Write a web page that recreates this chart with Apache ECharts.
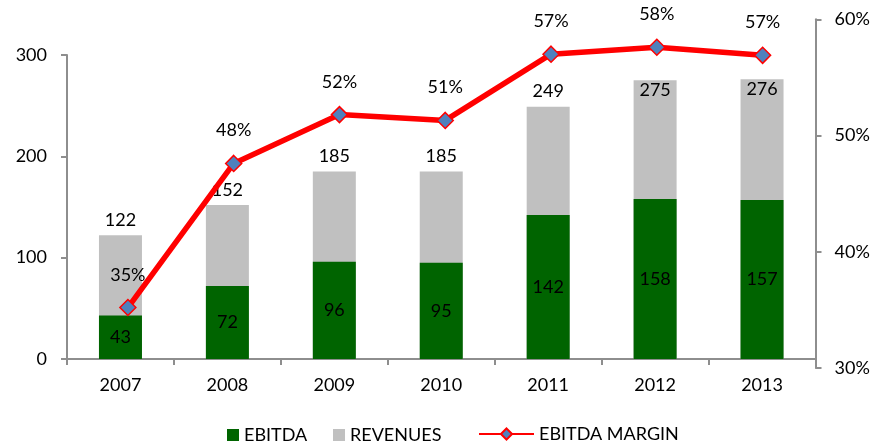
<!DOCTYPE html>
<html>
<head>
<meta charset="utf-8">
<script src="https://cdn.jsdelivr.net/npm/echarts@6/dist/echarts.min.js"></script>
<style>
html,body{margin:0;padding:0;background:#fff;}
#chart{width:875px;height:443px;}
</style>
</head>
<body>
<div id="chart"></div>
<script>
const categories = ['2007', '2008', '2009', '2010', '2011', '2012', '2013'];
const ebitda = [43, 72, 96, 95, 142, 158, 157];
const revenues = [122, 152, 185, 185, 249, 275, 276];
const margin = [35.2, 47.6, 51.8, 51.3, 57.0, 57.6, 56.9];
const leftAxisRange = [0, 300, 100];
const rightAxisRange = [30, 60, 10];

const FONT = 'Lato';
const FS = 18;
const axisColor = '#8E8E8E';
const textStyle = { color: '#000', fontFamily: FONT, fontSize: FS };

const chart = echarts.init(document.getElementById('chart'), null, { renderer: 'canvas' });

const option = {
  animation: false,
  textStyle: { fontFamily: FONT },
  grid: [
    { left: 67, right: 59.5, top: 55, bottom: 84, containLabel: false },
    { left: 75, right: 59.5, top: 19.3, bottom: 75, containLabel: false }
  ],
  legend: [
    {
      data: ['EBITDA'], left: 227, top: 426, padding: 0, itemWidth: 12, itemHeight: 12,
      icon: 'rect', textStyle: Object.assign({}, textStyle)
    },
    {
      data: ['REVENUES'], left: 333, top: 426, padding: 0, itemWidth: 12, itemHeight: 12,
      icon: 'rect', textStyle: Object.assign({}, textStyle)
    },
    {
      data: ['EBITDA MARGIN'], left: 478, top: 425, padding: 0, itemWidth: 55, itemHeight: 14,
      textStyle: Object.assign({}, textStyle)
    }
  ],
  xAxis: [
    {
      type: 'category', gridIndex: 0, data: categories, boundaryGap: true,
      axisLine: { lineStyle: { color: axisColor, width: 2 } },
      axisTick: { show: true, length: 6, lineStyle: { color: axisColor, width: 2 } },
      axisLabel: Object.assign({ margin: 17 }, textStyle)
    },
    {
      type: 'category', gridIndex: 1, data: categories, boundaryGap: true, show: false
    }
  ],
  yAxis: [
    {
      type: 'value', gridIndex: 0, min: leftAxisRange[0], max: leftAxisRange[1], interval: leftAxisRange[2],
      axisLine: { show: true, lineStyle: { color: axisColor, width: 2 } },
      axisTick: { show: true, length: 6, lineStyle: { color: axisColor, width: 2 } },
      splitLine: { show: false },
      axisLabel: Object.assign({ margin: 20 }, textStyle)
    },
    {
      type: 'value', gridIndex: 1, position: 'right', min: rightAxisRange[0], max: rightAxisRange[1], interval: rightAxisRange[2],
      axisLine: { show: true, lineStyle: { color: axisColor, width: 2 } },
      axisTick: { show: true, length: 6, lineStyle: { color: axisColor, width: 2 } },
      splitLine: { show: false },
      axisLabel: Object.assign({ margin: 19, formatter: '{value}%' }, textStyle)
    }
  ],
  series: [
    {
      name: 'REVENUES', type: 'bar', xAxisIndex: 0, yAxisIndex: 0,
      barWidth: 43, barGap: '-100%',
      itemStyle: { color: '#C0C0C0' },
      data: revenues.map((v, i) => ({
        value: v,
        label: i >= 5 ? { position: 'insideTop', distance: 1 } : { position: 'top', distance: 6 }
      })),
      label: Object.assign({ show: true }, textStyle),
      z: 1
    },
    {
      name: 'EBITDA', type: 'bar', xAxisIndex: 0, yAxisIndex: 0,
      barWidth: 43, barGap: '-100%',
      itemStyle: { color: '#006400' },
      data: ebitda,
      label: Object.assign({ show: true, position: 'inside' }, textStyle),
      z: 2
    },
    {
      name: 'EBITDA MARGIN', type: 'line', xAxisIndex: 1, yAxisIndex: 1,
      data: margin,
      symbol: 'diamond', symbolSize: 16,
      lineStyle: { color: '#FF0000', width: 5.5 },
      itemStyle: { color: '#4F81BD', borderColor: '#FF0000', borderWidth: 1.5 },
      label: Object.assign({
        show: true, position: 'top', distance: 15,
        formatter: p => Math.round(p.value) + '%'
      }, textStyle),
      z: 5
    }
  ]
};

chart.setOption(option);
</script>
</body>
</html>
